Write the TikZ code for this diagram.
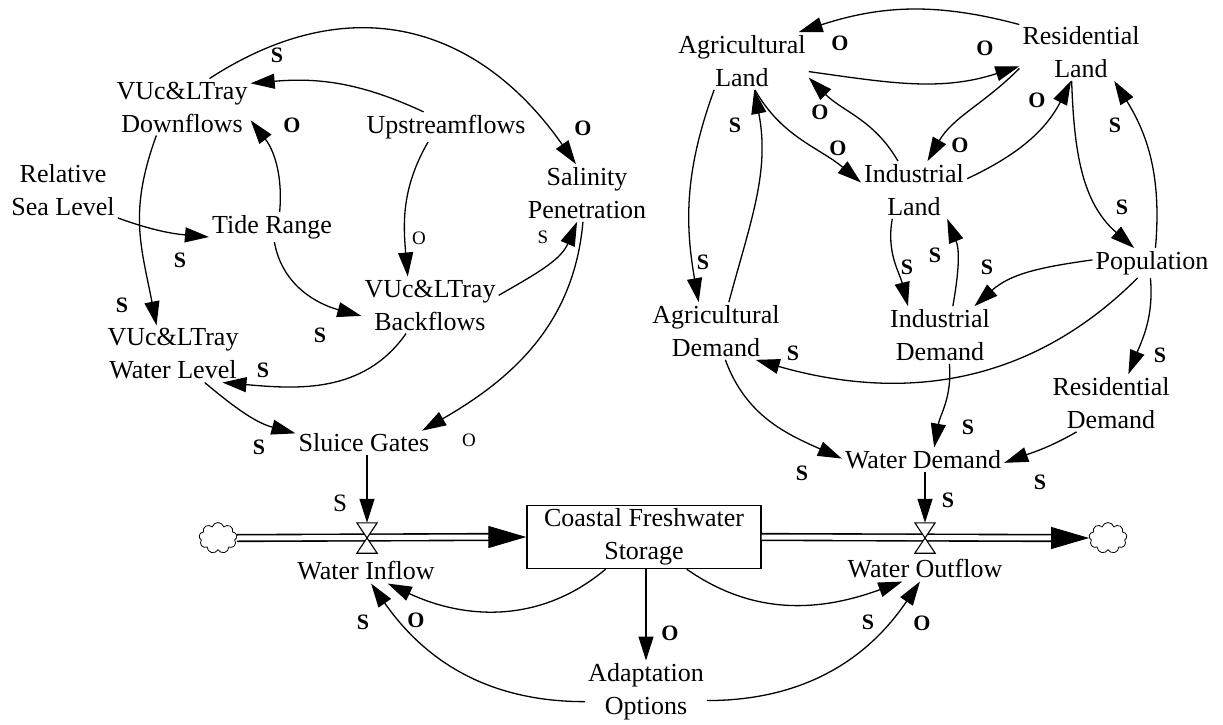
\documentclass[tikz,border=0pt]{standalone}
\usepackage{fontspec}
\setmainfont{Liberation Serif}
\usetikzlibrary{arrows.meta, calc, shapes.symbols}

\begin{document}
\begin{tikzpicture}[
  x=1pt, y=1pt,
  every node/.style={font=\fontsize{26}{33}\selectfont, align=center},
  var/.style={inner sep=3pt},
  stock/.style={draw, line width=1.4pt, minimum width=234pt,
                minimum height=63pt, inner sep=0pt},
  pol/.style={font=\fontsize{22}{22}\selectfont\bfseries, inner sep=0pt},
  polr/.style={font=\fontsize{19}{19}\selectfont, inner sep=0pt},
  arr/.style={-{Triangle[length=24pt,width=15pt]}, line width=1.3pt},
  pipe/.style={double, double distance=5pt, line width=1.6pt},
  pipehead/.style={-{Triangle[length=38pt,width=22pt]}, line width=1pt},
  cloudy/.style={cloud, cloud puffs=9, draw, line width=0.8pt,
                 minimum width=38pt, minimum height=31pt, inner sep=0pt},
  valvebox/.style={minimum width=20pt, minimum height=30pt, inner sep=0pt},
  valve/.style={draw, fill=white, line width=1.1pt},
]
  \useasboundingbox (0,0) rectangle (1223,-725);

  % estuary side
  \node[var] (dn) at (182,-107) {VUc\&LTray\\Downflows};
  \node[var] (up) at (446,-127) {Upstreamflows};
  \node[var] (rsl) at (63,-190) {Relative\\Sea Level};
  \node[var] (tr) at (272,-227) {Tide Range};
  \node[var] (sp) at (587,-193) {Salinity\\Penetration};
  \node[var] (bf) at (430,-305) {VUc\&LTray\\Backflows};
  \node[var] (wl) at (173,-354) {VUc\&LTray\\Water Level};
  \node[var] (sg) at (364,-443) {Sluice Gates};

  % stock and flows
  \node[stock] (box) at (644,-537) {Coastal Freshwater\\Storage};
  \node[cloudy] (cloudL) at (218,-538) {};
  \node[cloudy] (cloudR) at (1108,-538) {};
  \node[valvebox] (vin) at (367,-538) {};
  \node[valvebox] (vout) at (925,-538) {};
  \node[var] (wi) at (366,-571) {Water Inflow};
  \node[var] (wo) at (925,-569) {Water Outflow};
  \node[var] (adapt) at (646,-692) {Adaptation\\Options};
  \node[var] (wd) at (923,-460) {Water Demand};

  % land use side
  \node[var] (al) at (742,-61) {Agricultural\\Land};
  \node[var] (rl) at (1081,-52) {Residential\\Land};
  \node[var] (il) at (914,-190) {Industrial\\Land};
  \node[var] (pop) at (1152,-263) {Population};
  \node[var] (ad) at (716,-331) {Agricultural\\Demand};
  \node[var] (id) at (940,-335) {Industrial\\Demand};
  \node[var] (rd) at (1111,-403) {Residential\\Demand};

  % pipes
  \draw[pipe] (cloudL.east) -- ($(box.west)-(36,0)$);
  \draw[pipehead] ($(box.west)-(38,0)$) -- (box.west);
  \draw[pipe] (box.east) -- ($(cloudR.west)-(36,0)$);
  \draw[pipehead] ($(cloudR.west)-(38,0)$) -- (cloudR.west);
  \foreach \v in {vin, vout}
    \draw[valve] (\v.north west) -- (\v.north east)
      -- (\v.south west) -- (\v.south east) -- cycle;

  % links, left loop
  \draw[arr] (dn.-132) to[out=-110,in=101,looseness=1.1] (wl.120);
  \draw[arr] (dn.46) to[out=33,in=125,looseness=1.15] (sp.111);
  \draw[arr] (up.146) to[out=155,in=5] (dn.19);
  \draw[arr] (tr.63) to[out=85,in=-52] (dn.-11);
  \draw[arr] (rsl.-27) to[out=-20,in=175] (tr.189);
  \draw[arr] (up.-140) to[out=-120,in=95] (bf.128);
  \draw[arr] (tr.-81) to[out=-80,in=165] (bf.-171);
  \draw[arr] (bf.8) to[out=30,in=-113] (sp.-109);
  \draw[arr] (sp.-98) to[out=-95,in=30] (sg.12);
  \draw[arr] (bf.-130) to[out=-125,in=-5] (wl.-30);
  \draw[arr] (wl.-42) to[out=-40,in=165] (sg.172);
  \draw[arr] (sg.south -| vin) -- (vin.north);

  % links, storage
  \draw[arr] (box.-140) to[out=-140,in=-25] (wi.-30);
  \draw[arr] (box.south -| adapt) -- (adapt.north);
  \draw[arr] (box.-37) to[out=-35,in=200] (wo.-151);
  \draw[arr] (adapt.189) to[out=180,in=-55] (wi.-68);
  \draw[arr] (adapt.-8) to[out=0,in=-124] (wo.-112);
  \draw[arr] (wd.south -| vout) -- (vout.north);

  % links, right loop
  \draw[arr] (rl.156) to[out=165,in=18] (al.27);
  \draw[arr] (al.-9) to[out=-8,in=198] (rl.193);
  \draw[arr] (rl.-165) to[out=-135,in=60] (il.65);
  \draw[arr] (il.12) to[out=25,in=-117] (rl.-109);
  \draw[arr] (al.-66) to[out=-60,in=140] (il.172);
  \draw[arr] (il.119) to[out=120,in=-45] (al.-14);
  \draw[arr] (al.-134) to[out=-110,in=100] (ad.121);
  \draw[arr] (ad.66) to[out=75,in=-79] (al.-67);
  \draw[arr] (rl.-108) to[out=-88,in=139] (pop.140);
  \draw[arr] (pop.77) to[out=85,in=-58] (rl.-41);
  \draw[arr] (il.-127) to[out=-100,in=104] (id.138);
  \draw[arr] (id.66) to[out=80,in=-68] (il.-41);
  \draw[arr] (pop.177) to[out=188,in=42] (id.40);
  \draw[arr] (pop.-96) to[out=-85,in=68] (rd.59);
  \draw[arr] (pop.-134) to[out=-135,in=-16] (ad.-36);
  \draw[arr] (ad.-72) to[out=-70,in=156] (wd.179);
  \draw[arr] (id.-72) to[out=-85,in=80] (wd.48);
  \draw[arr] (rd.-140) to[out=-150,in=20] (wd.-2);

  % polarity marks
  \foreach \x/\y/\t [count=\i] in {277/55/S, 583/128/O, 292/125/O,
      180/260/S, 122/305/S, 320/335/S, 263/370/S, 259/447/S,
      416/620/O, 363/622/S, 670/633/O, 868/622/S, 922/623/O, 948/500/S,
      840/43/O, 985/48/O, 960/145/O, 1037/100/O, 838/148/O, 820/112/O,
      703/262/S, 735/125/S, 1122/207/S, 1115/125/S, 907/267/S,
      935/255/S, 987/267/S, 1160/355/S, 793/353/S, 802/473/S,
      968/427/S, 1040/482/S}
    \node[pol] (pb\i) at (\x,-\y) {\t};
  \node[polr] (pr1) at (419,-238) {O};
  \node[polr] (pr2) at (543,-237) {S};
  \node[polr] (pr3) at (469,-440) {O};
  \node[polr, font=\fontsize{25}{25}\selectfont] (pr4) at (340,-503) {S};
\end{tikzpicture}
\end{document}
